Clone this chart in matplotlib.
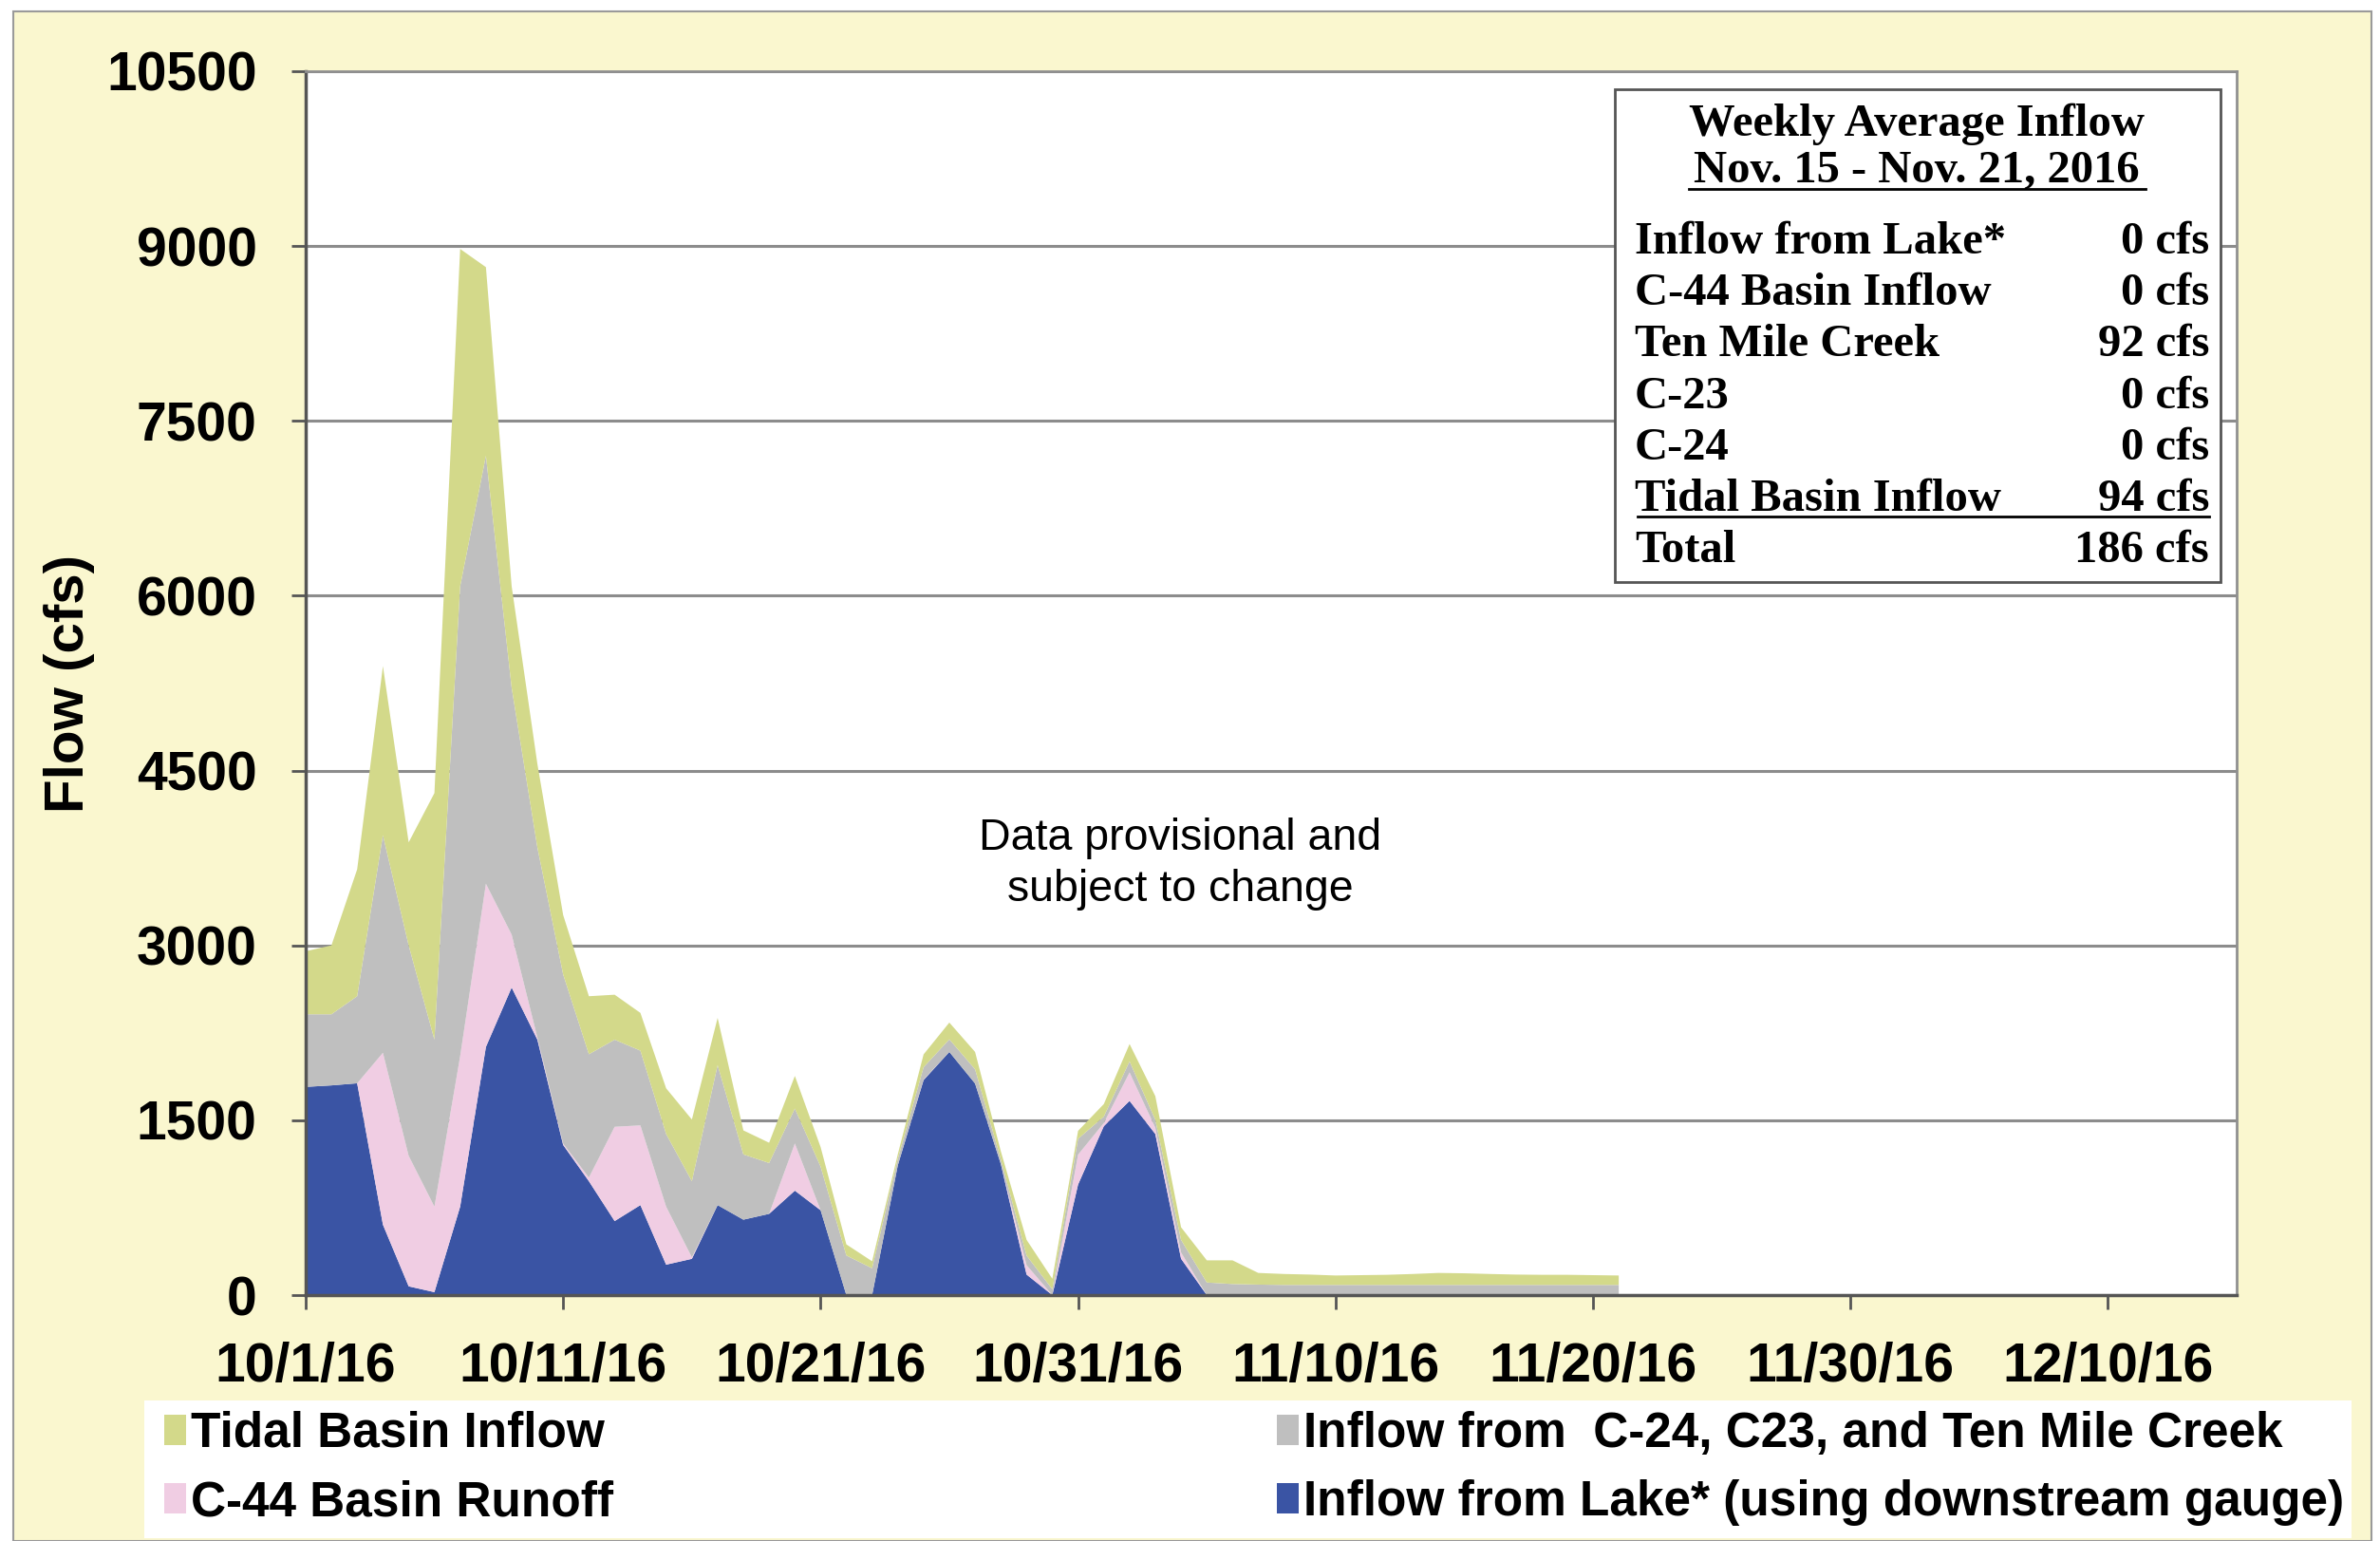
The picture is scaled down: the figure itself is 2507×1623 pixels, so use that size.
import numpy as np
import matplotlib.pyplot as plt
from matplotlib.patches import Rectangle, Patch
from matplotlib.lines import Line2D

plt.rcParams['font.family'] = ['Liberation Sans', 'DejaVu Sans']

# daily values, 10/1/16 .. 11/21/16 (cfs)
lake = [1786, 1799, 1817, 604, 75, 25, 759, 2129, 2639, 2191,
        1288, 977, 635, 772, 261, 311, 772, 647, 697, 896,
        728, 0, 0, 1115, 1845, 2086, 1815, 1124, 176, 0,
        948, 1449, 1666, 1382, 312, 0, 0, 0, 0, 0,
        0, 0, 0, 0, 0, 0, 0, 0, 0, 0, 0, 0]
c44 = [0, 0, 0, 1475, 1120, 734, 1291, 1400, 454, 19,
       12, 31, 809, 684, 498, 13, 0, 0, 0, 405,
       0, 0, 0, 0, 5, 0, 0, 0, 81, 0,
       257, 27, 244, 54, 54, 0, 0, 0, 0, 0,
       0, 0, 0, 0, 0, 0, 0, 0, 0, 0, 0, 0]
basins = [623, 610, 747, 1867, 1805, 1432, 4031, 3672, 2117, 1630,
          1451, 1058, 747, 641, 623, 653, 1201, 560, 436, 299,
          374, 340, 230, 55, 105, 108, 122, 41, 82, 50,
          136, 55, 95, 67, 108, 108, 95, 90, 87, 87,
          87, 87, 87, 87, 87, 87, 87, 87, 87, 87, 87, 87]
tidal = [541, 591, 1089, 1450, 884, 2116, 2894, 1618, 871, 716,
         510, 498, 386, 324, 392, 529, 405, 206, 174, 280,
         168, 95, 60, 40, 110, 144, 149, 68, 135, 90,
         68, 108, 149, 204, 108, 190, 203, 100, 94, 89,
         81, 84, 87, 94, 103, 100, 94, 89, 87, 87, 84, 81]

series_labels = ['Tidal Basin Inflow', 'C-44 Basin Runoff',
                 'Inflow from  C-24, C23, and Ten Mile Creek',
                 'Inflow from Lake* (using downstream gauge)']
series_colors = ['#d3d98a', '#f0cde3', '#bfbfbf', '#3a54a4']

tick_dates = ['2016-10-01', '2016-10-11', '2016-10-21', '2016-10-31',
              '2016-11-10', '2016-11-20', '2016-11-30', '2016-12-10']
tick_labels = ['10/1/16', '10/11/16', '10/21/16', '10/31/16',
               '11/10/16', '11/20/16', '11/30/16', '12/10/16']
y_ticks = [0, 1500, 3000, 4500, 6000, 7500, 9000, 10500]

info_title = ['Weekly Average Inflow', 'Nov. 15 - Nov. 21, 2016']
info_labels = ['Inflow from Lake*', 'C-44 Basin Inflow', 'Ten Mile Creek',
               'C-23', 'C-24', 'Tidal Basin Inflow', 'Total']
info_values = [0, 0, 92, 0, 0, 94, 186]

W, H = 2507, 1623


def fx(px):
    return px / W


def fy(py):
    return 1 - py / H


fig = plt.figure(figsize=(W / 100, H / 100), dpi=100, facecolor='white')

# yellow panel
fig.add_artist(Rectangle((fx(14), 0), fx(2498) - fx(14), fy(12), transform=fig.transFigure,
                         facecolor='#faf7cf', edgecolor='#9a9a9a', lw=1.5, zorder=0))

ax = fig.add_axes([fx(322), fy(1364), fx(2356) - fx(322), fy(75) - fy(1364)])
ax.set_facecolor('white')

dates = np.arange(np.datetime64('2016-10-01'), np.datetime64('2016-10-01') + len(lake))
ax.stackplot(dates, lake, c44, basins, tidal,
             colors=[series_colors[3], series_colors[1], series_colors[2], series_colors[0]],
             linewidth=0)

ax.set_xlim(np.datetime64('2016-10-01'), np.datetime64('2016-12-15'))
ax.set_ylim(0, 10500)
ax.set_xticks([np.datetime64(d) for d in tick_dates])
ax.set_xticklabels(tick_labels)
ax.set_yticks(y_ticks)
ax.set_yticklabels([str(v) for v in y_ticks])

ax.set_axisbelow(True)
ax.yaxis.grid(True, color='#8c8c8c', lw=2.2)
ax.tick_params(axis='both', direction='out', length=11, width=2, color='#555555')
ax.tick_params(axis='x', pad=24, labelsize=41)
ax.tick_params(axis='y', pad=26, labelsize=41)
for lab in ax.get_xticklabels() + ax.get_yticklabels():
    lab.set_fontweight('bold')
for s in ['left', 'bottom']:
    ax.spines[s].set_color('#555555')
    ax.spines[s].set_linewidth(2.5)
for s in ['top', 'right']:
    ax.spines[s].set_color('#909090')
    ax.spines[s].set_linewidth(2)

fig.text(fx(73), fy(720), 'Flow (cfs)', rotation=90, ha='center', va='center',
         fontsize=42, fontweight='bold')

fig.text(fx(1243), fy(910), 'Data provisional and\nsubject to change',
         ha='center', va='center', fontsize=33.5, linespacing=1.32)

# weekly average box
fig.add_artist(Rectangle((fx(1701), fy(613)), fx(2339) - fx(1701), fy(94) - fy(613),
                         transform=fig.transFigure, facecolor='white',
                         edgecolor='#555555', lw=2, zorder=5))
serif = ['Liberation Serif', 'DejaVu Serif']
fig.text(fx(2019), fy(143), info_title[0], ha='center', va='baseline', fontsize=35,
         fontweight='bold', family=serif, zorder=6)
fig.text(fx(2019), fy(191), info_title[1], ha='center', va='baseline', fontsize=35,
         fontweight='bold', family=serif, zorder=6)
fig.add_artist(Line2D([fx(1779), fx(2260)], [fy(199), fy(199)], color='black', lw=2, zorder=6))
row_base = [267, 321, 375, 430, 484, 538, 592]
for lab, val, yb in zip(info_labels, info_values, row_base):
    fig.text(fx(1722), fy(yb), lab, ha='left', va='baseline', fontsize=35,
             fontweight='bold', family=serif, zorder=6)
    fig.text(fx(2327), fy(yb), f'{val} cfs', ha='right', va='baseline', fontsize=35,
             fontweight='bold', family=serif, zorder=6)
fig.add_artist(Line2D([fx(1725), fx(2327)], [fy(544), fy(544)], color='black', lw=2, zorder=6))

# legend
fig.add_artist(Rectangle((fx(152), fy(1620)), fx(2477) - fx(152), fy(1475) - fy(1620),
                         transform=fig.transFigure, facecolor='white', edgecolor='none', zorder=1))
handles = [Patch(facecolor=c, edgecolor='none') for c in series_colors]
fig.legend(handles, series_labels,
           ncol=2, loc='upper left', bbox_to_anchor=(fx(173), fy(1486)),
           frameon=False, prop={'size': 37, 'weight': 'bold'},
           handlelength=0.45, handleheight=0.6, handletextpad=0.1,
           columnspacing=13.6, labelspacing=0.45, borderpad=0, borderaxespad=0)

fig.savefig('out.png', dpi=100, facecolor='white')
